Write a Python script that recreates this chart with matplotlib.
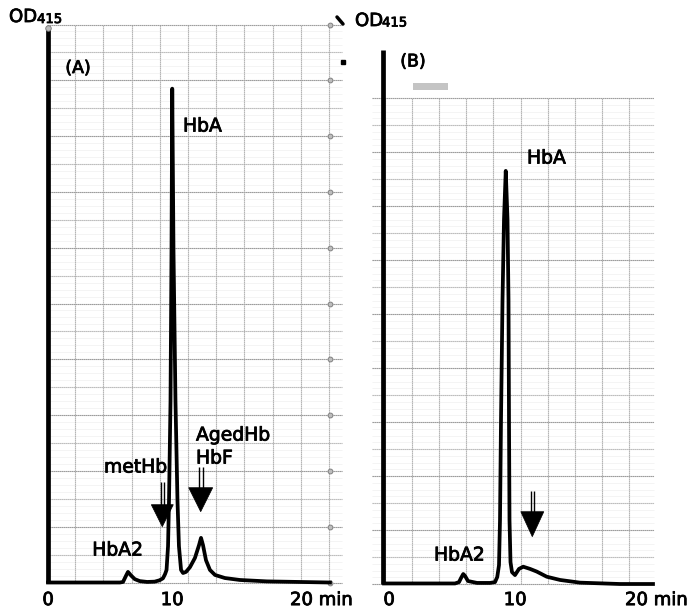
import matplotlib
matplotlib.use("Agg")
import matplotlib.pyplot as plt
import matplotlib.transforms as mtransforms
import matplotlib.patheffects as pe
from matplotlib.patches import Polygon, Rectangle
import numpy as np

plt.rcParams['font.family'] = ['DejaVu Sans']

# ---------------- data ----------------
# Panel A: time (min) and absorbance (grid units above baseline)
time_a = [0.0, 5.8, 6.05, 6.3, 6.45, 6.7, 7.0, 7.4, 8.0, 8.6, 9.0, 9.27, 9.44,
          9.56, 9.68, 9.76, 9.88, 9.96, 10.02, 10.12, 10.28, 10.44, 10.56,
          10.73, 10.89, 11.13, 11.45, 11.85, 12.18, 12.34, 12.5, 12.74, 13.06,
          13.47, 14.27, 15.48, 17.66, 22.74]
od_a = [0.0, 0.0, 0.02, 0.25, 0.38, 0.25, 0.12, 0.05, 0.02, 0.03, 0.08, 0.15, 0.3,
        0.45, 1.3, 2.96, 6.5, 11.9, 17.7, 11.9, 6.5, 2.96, 1.3,
        0.45, 0.34, 0.38, 0.55, 0.88, 1.34, 1.6, 1.34, 0.8, 0.45,
        0.27, 0.16, 0.09, 0.04, 0.0]

# Panel B
time_b = [0.0, 5.68, 6.0, 6.16, 6.34, 6.48, 6.72, 7.44, 8.48, 8.88, 9.06, 9.2,
          9.28, 9.36, 9.48, 9.6, 9.74, 9.88, 9.96, 10.0, 10.04, 10.12, 10.24,
          10.48, 10.8, 11.14, 11.68, 12.22, 13.02, 14.08, 15.68, 18.88, 21.52]
od_b = [0.02, 0.02, 0.07, 0.22, 0.37, 0.3, 0.11, 0.04, 0.04, 0.07, 0.26, 0.7,
        2.37, 6.07, 10.5, 13.5, 15.3, 13.5, 10.5, 6.07, 2.37, 0.81, 0.44,
        0.33, 0.56, 0.64, 0.56, 0.46, 0.27, 0.15, 0.05, 0.0, 0.0]

tick_vals = [0, 10, 20]
tick_labels = ['0', '10', '20 min']

# ---------------- figure ----------------
W, H = 692, 610
fig = plt.figure(figsize=(W / 100, H / 100), dpi=100)
fig.patch.set_facecolor('white')
heavy = [pe.withStroke(linewidth=0.6, foreground='black')]


def add_panel(x0_px, px_per_min, base_px, cell_px, left, right, top, bottom):
    ax = fig.add_axes([left / W, 1 - bottom / H, (right - left) / W, (bottom - top) / H])
    ax.set_xlim((left - x0_px) / px_per_min, (right - x0_px) / px_per_min)
    ax.set_ylim((base_px - bottom) / cell_px, (base_px - top) / cell_px)
    for s in ax.spines.values():
        s.set_visible(False)
    ax.patch.set_alpha(0)
    ax.tick_params(length=0, labelsize=13, pad=1.5)
    ax.set_yticks([])
    return ax


def px2x(px, x0_px, ppm):
    return (px - x0_px) / ppm


def px2y(py, base_px, cell):
    return (base_px - py) / cell


def draw_grid(ax, xs, x_lo, x_hi, y_lo, y_hi, n_rows):
    # faint minor rulings
    for k in np.arange(y_lo, y_hi, 0.25):
        ax.hlines(k, x_lo, x_hi, color='#f0f0f0', lw=0.5, zorder=0)
    for k in range(n_rows + 1):
        c = '#8c8c8c' if k % 2 == 0 else '#b4b4b4'
        ax.hlines(y_lo + k, x_lo, x_hi, color=c, lw=0.8, linestyle=(0, (1.2, 0.6)), zorder=1)
    ax.vlines(xs, y_lo, y_lo + n_rows, color='#a8a8a8', lw=0.8,
              linestyle=(0, (1.2, 0.6)), zorder=1)


def double_arrow(ax, t, h, shaft_len, shaft_gap, head_len, head_w):
    # drawn in pixel offsets (1/100 inch) from the arrow tip
    tr = fig.dpi_scale_trans + mtransforms.ScaledTranslation(t, h, ax.transData)
    s = 0.01
    head = Polygon([(0, 0), (-head_w / 2 * s, head_len * s), (head_w / 2 * s, head_len * s)],
                   closed=True, facecolor='black', edgecolor='black', lw=0.5,
                   transform=tr, zorder=6)
    ax.add_patch(head)
    for dx in (-shaft_gap / 2, shaft_gap / 2):
        ax.plot([dx * s, dx * s], [head_len * s - 1 * s, (head_len + shaft_len) * s],
                color='black', lw=1.0, transform=tr, zorder=6, solid_capstyle='butt')


def set_ticks(ax, offsets):
    ax.set_xticks(tick_vals, tick_labels)
    for lab, (dx, ha) in zip(ax.get_xticklabels(), offsets):
        lab.set_ha(ha)
        lab.set_path_effects(heavy)
        lab.set_transform(lab.get_transform() +
                          mtransforms.ScaledTranslation(dx / 100, 0, fig.dpi_scale_trans))


def ptext(x, y, s, size=13.5, ha='left', va='center', **kw):
    fig.text(x / W, 1 - y / H, s, fontsize=size, ha=ha, va=va,
             path_effects=heavy, **kw)


# ---------------- Panel A ----------------
A_x0, A_ppm, A_base, A_cell = 48, 12.4, 582.5, 27.9
axA = add_panel(A_x0, A_ppm, A_base, A_cell, 30, 352, 8, 589)
gxA = [px2x(47 + 28.2 * k, A_x0, A_ppm) for k in range(11)]
draw_grid(axA, gxA, px2x(47, A_x0, A_ppm), px2x(342, A_x0, A_ppm), 0, 20, 20)
# marker dots on the chart paper
axA.plot([px2x(330, A_x0, A_ppm)] * 11, np.arange(0, 21, 2), 'o', ms=3.5,
         mfc='#bdbdbd', mec='#777777', mew=0.6, zorder=2)
axA.plot([0], [px2y(28, A_base, A_cell)], 'o', ms=4, mfc='#bdbdbd', mec='#777777', mew=0.6, zorder=4)
axA.vlines(0, px2y(583, A_base, A_cell), px2y(28, A_base, A_cell), color='black', lw=3.4, zorder=3)
axA.plot(time_a, od_a, color='black', lw=2.7, solid_joinstyle='round', zorder=5)
set_ticks(axA, [(0, 'center'), (0, 'center'), (-6, 'left')])
double_arrow(axA, px2x(162.3, A_x0, A_ppm), px2y(526.7, A_base, A_cell), 23, 3.5, 22, 22)
double_arrow(axA, px2x(200.7, A_x0, A_ppm), px2y(511.7, A_base, A_cell), 21, 4, 24, 24)
# small scan marks top right
axA.plot([px2x(337, A_x0, A_ppm), px2x(343, A_x0, A_ppm)],
         [px2y(17, A_base, A_cell), px2y(24, A_base, A_cell)], color='black', lw=2.5,
         solid_capstyle='round', clip_on=False)
axA.plot([px2x(343, A_x0, A_ppm)], [px2y(62, A_base, A_cell)], 's', ms=3, color='black', clip_on=False)

# ---------------- Panel B ----------------
B_x0, B_ppm, B_base, B_cell = 384, 12.5, 584, 27.0
axB = add_panel(B_x0, B_ppm, B_base, B_cell, 360, 690, 8, 589)
gxB = [px2x(385 + 27.1 * k, B_x0, B_ppm) for k in range(10)]
draw_grid(axB, gxB, px2x(372, B_x0, B_ppm), px2x(654, B_x0, B_ppm), 0, 18, 18)
axB.add_patch(Rectangle((px2x(413, B_x0, B_ppm), px2y(90, B_base, B_cell)),
                        35 / B_ppm, 7 / B_cell, facecolor='#c4c4c4', edgecolor='none', zorder=2))
axB.vlines(px2x(383, B_x0, B_ppm), 0, px2y(50, B_base, B_cell), color='black', lw=3.4, zorder=3)
axB.plot(time_b, od_b, color='black', lw=2.7, solid_joinstyle='round', zorder=5)
set_ticks(axB, [(5, 'center'), (6, 'center'), (-9, 'left')])
double_arrow(axB, px2x(532.3, B_x0, B_ppm), px2y(536.7, B_base, B_cell), 21, 3.5, 25, 23)

# ---------------- labels ----------------
ptext(9, 17, 'OD', size=13, va='center')
ptext(37, 19.5, '415', size=9.5, va='center')
ptext(78, 68, '(A)', size=12.5, ha='center')
ptext(183, 126, 'HbA')
ptext(104, 467, 'metHb')
ptext(196, 435, 'AgedHb')
ptext(196, 458, 'HbF')
ptext(143, 550, 'HbA2', ha='right')

ptext(355, 21, 'OD', size=13, va='center')
ptext(382, 23, '415', size=9.5, va='center')
ptext(413, 61.5, '(B)', size=12.5, ha='center')
ptext(527, 158, 'HbA')
ptext(434, 555, 'HbA2')

fig.savefig('out.png', dpi=100)
